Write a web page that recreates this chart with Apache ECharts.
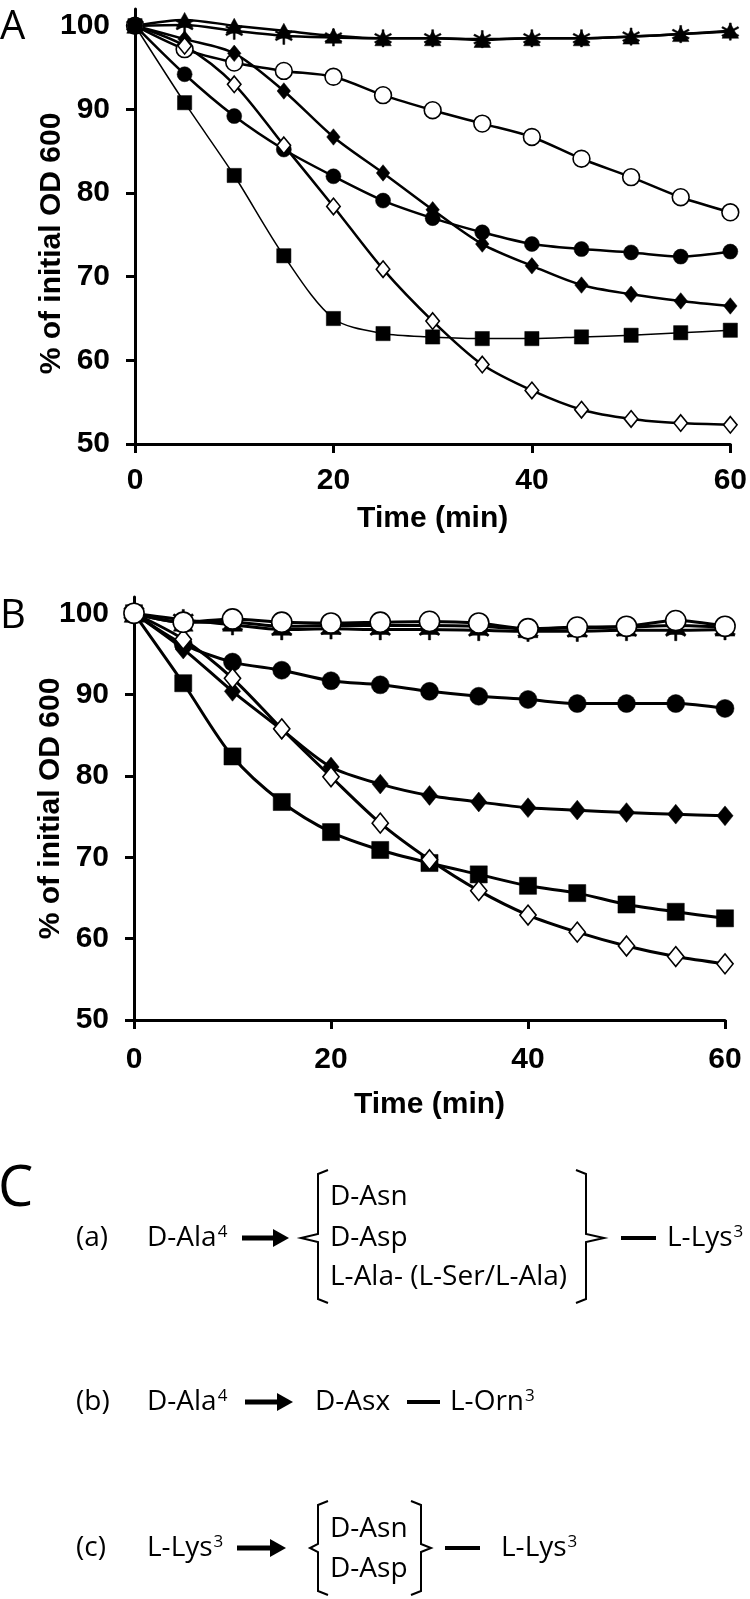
<!DOCTYPE html>
<html><head><meta charset="utf-8">
<script src="https://cdn.jsdelivr.net/npm/echarts@6/dist/echarts.min.js"></script>
<style>html,body{margin:0;padding:0;background:#fff}#c{width:750px;height:1599px}</style>
</head><body><div id="c"></div>
<script>
// ---- data ----
const time = [0, 5, 10, 15, 20, 25, 30, 35, 40, 45, 50, 55, 60];
const yTickValues = [50, 60, 70, 80, 90, 100];
const xAxisName = 'Time (min)';
const yAxisName = '% of initial OD 600';

// Panel A
const aAsterisk    = [100, 100.1, 99.4, 98.8, 98.6, 98.5, 98.5, 98.4, 98.5, 98.5, 98.7, 99.0, 99.3];
const aTriangle    = [100, 100.7, 100.0, 99.4, 98.8, 98.5, 98.5, 98.3, 98.5, 98.5, 98.7, 99.0, 99.4];
const aOpenCircle  = [100, 97.2, 95.6, 94.6, 93.9, 91.7, 89.9, 88.3, 86.7, 84.1, 81.9, 79.5, 77.7];
const aCircle      = [100, 94.2, 89.2, 85.2, 82.0, 79.1, 77.0, 75.3, 73.9, 73.3, 72.9, 72.4, 73.0];
const aDiamond     = [100, 98.4, 96.7, 92.2, 86.7, 82.4, 78.0, 73.9, 71.3, 69.0, 67.9, 67.1, 66.5];
const aOpenDiamond = [100, 97.6, 93.0, 85.7, 78.4, 70.9, 64.7, 59.5, 56.4, 54.1, 53.0, 52.5, 52.3];
const aSquare      = [100, 90.8, 82.1, 72.5, 65.0, 63.2, 62.8, 62.6, 62.6, 62.8, 63.0, 63.3, 63.6];

// Panel B
const bAsterisk    = [100, 99.2, 98.6, 98.0, 98.1, 98.0, 98.0, 97.9, 97.8, 97.8, 97.9, 97.9, 98.0];
const bTriangle    = [100, 98.9, 98.9, 98.4, 98.5, 98.5, 98.5, 98.4, 98.1, 98.2, 98.3, 98.5, 98.3];
const bSquare      = [100, 91.4, 82.4, 76.8, 73.1, 70.9, 69.3, 67.9, 66.5, 65.6, 64.2, 63.3, 62.5];
const bDiamond     = [100, 95.6, 90.4, 85.7, 81.1, 79.0, 77.6, 76.8, 76.1, 75.8, 75.5, 75.3, 75.1];
const bCircle      = [100, 96.2, 94.0, 93.0, 91.7, 91.2, 90.4, 89.8, 89.4, 88.9, 88.9, 88.9, 88.3];
const bOpenDiamond = [100, 96.8, 92.0, 85.8, 79.9, 74.2, 69.7, 65.9, 62.9, 60.8, 59.1, 57.8, 56.9];
const bOpenCircle  = [100, 98.9, 99.3, 98.9, 98.8, 98.9, 99.0, 98.8, 98.1, 98.3, 98.4, 99.1, 98.4];

// ---- styles ----
const ASTERISK = 'path://M9 0L11 0L11 20L9 20Z M1.84 4.13L19.16 14.13L18.16 15.87L0.84 5.87Z M0.84 14.13L18.16 4.13L19.16 5.87L1.84 15.87Z';
const kinds = {
  asterisk:    {symbol: ASTERISK, fill: '#000', size: [1.15, 1.15]},
  triangle:    {symbol: 'triangle', fill: '#000', size: [1.1, 1.0]},
  openCircle:  {symbol: 'circle', fill: '#fff', size: [1.12, 1.12]},
  circle:      {symbol: 'circle', fill: '#000', size: [1.0, 1.0]},
  diamond:     {symbol: 'diamond', fill: '#000', size: [0.9, 1.1]},
  openDiamond: {symbol: 'diamond', fill: '#fff', size: [0.9, 1.1]},
  square:      {symbol: 'rect', fill: '#000', size: [0.95, 0.95]}
};
function mk(name, values, kind, panel, lw) {
  const k = kinds[kind];
  const base = panel === 0 ? 15 : 18;
  return {
    name: name, type: 'line', xAxisIndex: panel, yAxisIndex: panel,
    data: time.map((t, i) => [t, values[i]]),
    smooth: 0.3, symbol: k.symbol,
    symbolSize: [base * k.size[0], base * k.size[1]],
    lineStyle: {color: '#000', width: lw},
    itemStyle: {color: k.fill, borderColor: '#000', borderWidth: k.fill === '#fff' ? 1.6 : 0.5, opacity: 1},
    emphasis: {disabled: true}
  };
}

const font = 'Liberation Sans, Arial, sans-serif';
function xAx(gi, margin, gap) {
  return {
    type: 'value', gridIndex: gi, min: 0, max: 60, interval: 20,
    name: xAxisName, nameLocation: 'middle', nameGap: gap, nameMoveOverlap: false,
    nameTextStyle: {fontFamily: font, fontWeight: 'bold', fontSize: 30, color: '#000'},
    axisLine: {show: true, lineStyle: {color: '#000', width: 3}},
    axisTick: {show: true, length: 9, lineStyle: {color: '#000', width: 3}},
    axisLabel: {margin: margin, fontFamily: font, fontWeight: 'bold', fontSize: 30, color: '#000'},
    splitLine: {show: false}
  };
}
function yAx(gi, pad) {
  return {
    type: 'value', gridIndex: gi, min: 50, max: 102, interval: 10,
    name: yAxisName, nameLocation: 'middle', nameGap: 68, nameRotate: 90, nameMoveOverlap: false,
    nameTextStyle: {fontFamily: font, fontWeight: 'bold', fontSize: 30, color: '#000', padding: pad},
    axisLine: {show: true, lineStyle: {color: '#000', width: 3}},
    axisTick: {show: true, length: 9, customValues: yTickValues, lineStyle: {color: '#000', width: 3}},
    axisLabel: {margin: 25, customValues: yTickValues, fontFamily: font, fontWeight: 'bold', fontSize: 30, color: '#000'},
    splitLine: {show: false}
  };
}

// ---- panel C diagram helpers ----
const cFont = 'Open Sans, sans-serif';
const cRich = {sup: {fontSize: 17, fontFamily: cFont, verticalAlign: 'top', fill: '#000', padding: [0, 0, 0, 1]}};
function txt(x, y, s) {
  return {type: 'text', x: x, y: y, silent: true,
    style: {text: s, fontSize: 28, fontFamily: cFont, fill: '#000', verticalAlign: 'middle', rich: cRich}};
}
function arrow(x0, x1, y) {
  return [
    {type: 'line', silent: true, shape: {x1: x0, y1: y, x2: x1 - 12, y2: y}, style: {stroke: '#000', lineWidth: 5}},
    {type: 'polygon', silent: true, shape: {points: [[x1 - 16, y - 9], [x1, y], [x1 - 16, y + 9]]}, style: {fill: '#000'}}
  ];
}
function dash(x0, x1, y) {
  return {type: 'line', silent: true, shape: {x1: x0, y1: y, x2: x1, y2: y}, style: {stroke: '#000', lineWidth: 4}};
}
function bracket(xv, tip, top, mid, bottom, dir) {
  const s = 10 * dir;
  return {type: 'polyline', silent: true,
    shape: {points: [[xv + s, top], [xv, top + 4], [xv, mid - 4], [tip, mid], [xv, mid + 4], [xv, bottom - 4], [xv + s, bottom]]},
    style: {stroke: '#000', lineWidth: 2, fill: null}};
}

const graphics = [
  {type: 'text', x: 0, y: 28, silent: true, style: {text: 'A', fontSize: 40, fontFamily: cFont, fill: '#000', verticalAlign: 'middle'}},
  {type: 'text', x: 0, y: 617, silent: true, style: {text: 'B', fontSize: 40, fontFamily: cFont, fill: '#000', verticalAlign: 'middle'}},
  {type: 'text', x: -2, y: 1190, silent: true, style: {text: 'C', fontSize: 56, fontFamily: cFont, fill: '#000', verticalAlign: 'middle'}},
  // row (a)
  txt(76, 1238, '(a)'), txt(147, 1238, 'D-Ala{sup|4}'),
  ...arrow(242, 289, 1238),
  bracket(318, 301, 1170, 1238, 1303, 1),
  txt(330, 1197, 'D-Asn'), txt(330, 1238, 'D-Asp'), txt(330, 1277, 'L-Ala- (L-Ser/L-Ala)'),
  bracket(586, 604, 1170, 1238, 1303, -1),
  dash(621, 656, 1238), txt(667, 1238, 'L-Lys{sup|3}'),
  // row (b)
  txt(76, 1402, '(b)'), txt(147, 1402, 'D-Ala{sup|4}'),
  ...arrow(245, 293, 1402),
  txt(315, 1402, 'D-Asx'), dash(407, 440, 1402), txt(450, 1402, 'L-Orn{sup|3}'),
  // row (c)
  txt(76, 1548, '(c)'), txt(147, 1548, 'L-Lys{sup|3}'),
  ...arrow(237, 286, 1548),
  bracket(318, 310, 1501, 1548, 1595, 1),
  txt(330, 1529, 'D-Asn'), txt(330, 1569, 'D-Asp'),
  bracket(421, 431, 1501, 1548, 1595, -1),
  dash(445, 480, 1548), txt(501, 1548, 'L-Lys{sup|3}')
];

const option = {
  animation: false,
  backgroundColor: '#fff',
  grid: [
    {left: 135, top: 9, width: 598, height: 435},
    {left: 134, top: 597, width: 591, height: 423}
  ],
  xAxis: [xAx(0, 22, 60), xAx(1, 25, 70)],
  yAxis: [yAx(0, [0, 34, 0, 0]), yAx(1, [0, 0, 0, 0])],
  series: [
    mk('A asterisk', aAsterisk, 'asterisk', 0, 2.5),
    mk('A triangle', aTriangle, 'triangle', 0, 2.5),
    mk('A open circle', aOpenCircle, 'openCircle', 0, 2.5),
    mk('A circle', aCircle, 'circle', 0, 2.5),
    mk('A diamond', aDiamond, 'diamond', 0, 2.5),
    mk('A open diamond', aOpenDiamond, 'openDiamond', 0, 2.5),
    mk('A square', aSquare, 'square', 0, 1.5),
    mk('B asterisk', bAsterisk, 'asterisk', 1, 3),
    mk('B triangle', bTriangle, 'triangle', 1, 3),
    mk('B square', bSquare, 'square', 1, 3),
    mk('B diamond', bDiamond, 'diamond', 1, 3),
    mk('B circle', bCircle, 'circle', 1, 3),
    mk('B open diamond', bOpenDiamond, 'openDiamond', 1, 3),
    mk('B open circle', bOpenCircle, 'openCircle', 1, 3)
  ],
  graphic: graphics
};
const chart = echarts.init(document.getElementById('c'), null, {renderer: 'canvas'});
chart.setOption(option);
</script></body></html>
